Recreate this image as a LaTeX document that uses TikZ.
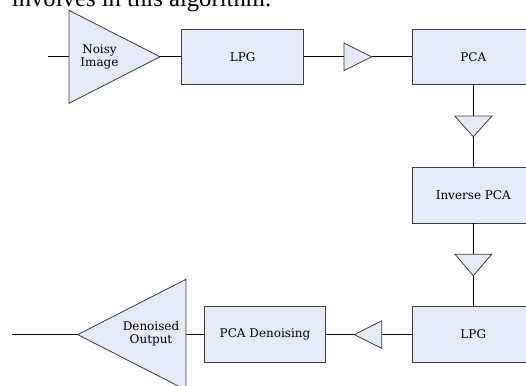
\documentclass[tikz,border=0pt]{standalone}
\usepackage{fontspec}
\setmainfont{DejaVu Serif}
\newfontfamily\timesfont{Liberation Serif}
\definecolor{boxfill}{RGB}{228,235,246}
\definecolor{boxline}{RGB}{60,60,60}
\begin{document}
\begin{tikzpicture}[x=1pt,y=-1pt,
  blk/.style={draw=boxline, fill=boxfill, line width=0.8pt, minimum width=122pt,
    minimum height=55.5pt, inner sep=0pt, font=\fontsize{12}{14}\selectfont},
  wire/.style={draw=black, line width=0.8pt},
  tri/.style={draw=boxline, fill=boxfill, line width=0.8pt, line join=miter},
  lbl/.style={inner sep=0pt, align=center, font=\fontsize{12}{13}\selectfont}]
\useasboundingbox (0,0) rectangle (526,385);
\clip (0,0) rectangle (526,385);
% caption fragment
\node[anchor=base west, inner sep=0pt, font=\timesfont\fontsize{24.7}{28}\selectfont] (cap) at (11.7,7) {involves in this algorithm.};
% blocks
\node[blk] (lpg1) at (242.7,56.8) {LPG};
\node[blk] (pca) at (473.3,56.8) {PCA};
\node[blk] (ipca) at (473.3,195.2) {Inverse PCA};
\node[blk] (lpg2) at (473.3,334.6) {LPG};
\node[blk, minimum width=121.4pt] (pcad) at (265,334.6) {PCA Denoising};
% triangle anchor points
\coordinate (in) at (48,56.8);
\coordinate (nbase) at (69,56.8);
\coordinate (napex) at (160,56.8);
\coordinate (t1in) at (344,56.8);
\coordinate (t1out) at (371.7,56.8);
\coordinate (t2in) at (473.3,116);
\coordinate (t2out) at (473.3,136.7);
\coordinate (t3in) at (473.3,254.3);
\coordinate (t3out) at (473.3,275.7);
\coordinate (t4in) at (381.7,334.6);
\coordinate (t4out) at (354.3,334.6);
\coordinate (t5in) at (186,334.6);
\coordinate (t5out) at (77.7,334.6);
\coordinate (out) at (11.7,334.6);
% connectors
\draw[wire] (in) -- (nbase);
\draw[wire] (napex) -- (lpg1.west);
\draw[wire] (lpg1.east) -- (t1in);
\draw[wire] (t1out) -- (pca.west);
\draw[wire] (pca.south) -- (t2in);
\draw[wire] (t2out) -- (ipca.north);
\draw[wire] (ipca.south) -- (t3in);
\draw[wire] (t3out) -- (lpg2.north);
\draw[wire] (lpg2.west) -- (t4in);
\draw[wire] (t4out) -- (pcad.east);
\draw[wire] (pcad.west) -- (t5in);
\draw[wire] (t5out) -- (out);
% triangles
\draw[tri] (69,10.3) -- (napex) -- (69,103.3) -- cycle;
\draw[tri] (344,43) -- (t1out) -- (344,70.6) -- cycle;
\draw[tri] (454.7,116) -- (492,116) -- (t2out) -- cycle;
\draw[tri] (455,254.3) -- (491.7,254.3) -- (t3out) -- cycle;
\draw[tri] (381.7,320.8) -- (381.7,348.4) -- (t4out) -- cycle;
\draw[tri] (186,279.3) -- (186,390) -- (t5out) -- cycle;
% triangle labels
\node[lbl] (noisy) at (99.5,56.5) {Noisy\\Image};
\node[lbl] (denout) at (151,333.8) {Denoised\\Output};
\end{tikzpicture}
\end{document}
